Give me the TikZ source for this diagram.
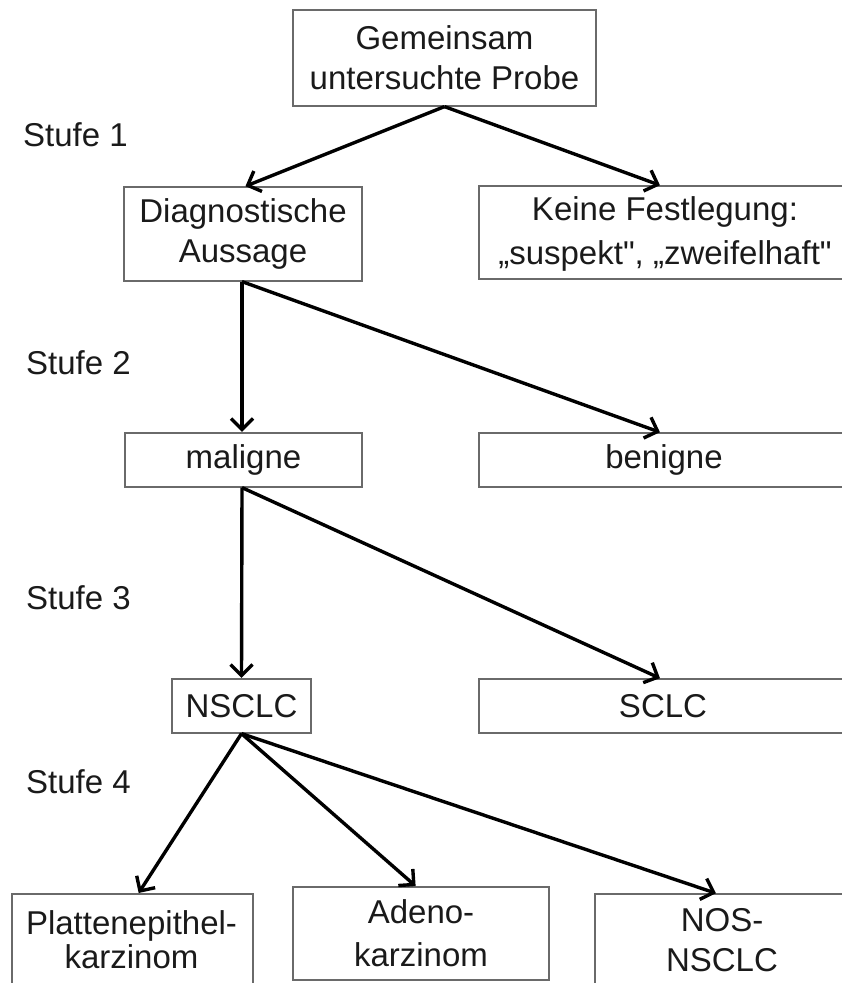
\documentclass[tikz,border=0pt]{standalone}
\usepackage{fontspec}
\setmainfont{Liberation Sans}[Ligatures=TeXOff]
\usetikzlibrary{arrows.meta}
\definecolor{boxline}{HTML}{6A6A6A}
\definecolor{txtc}{HTML}{1A1A1A}
\tikzset{
  box/.style={draw=boxline, line width=1.2pt, rectangle, inner sep=0pt, align=center, text=txtc,
    font=\fontsize{33}{40}\selectfont},
  txt/.style={inner sep=0pt, align=center, text=txtc, font=\fontsize{33}{40}\selectfont},
  arr/.style={line width=3.4pt, -{Straight Barb[length=11pt,width=22pt]}, shorten >=0.5pt},
}
\begin{document}
\begin{tikzpicture}[x=1pt,y=-1pt]
\useasboundingbox (0,0) rectangle (842,983);
\clip (0,0) rectangle (842,983);
% boxes
\node[box, minimum width=303pt, minimum height=96pt] (top) at (444.5,58) {Gemeinsam\\untersuchte Probe};
\node[box, minimum width=238pt, minimum height=94pt] (diag) at (243,234) {Diagnostische\\Aussage};
\node[box, minimum width=400pt, minimum height=93pt] (keine) at (679,232.5) {};
\node[txt, font=\fontsize{33}{44}\selectfont] (keinetxt) at (665,234) {Keine Festlegung:\\„suspekt", „zweifelhaft"};
\node[box, minimum width=237pt, minimum height=54pt] (mal) at (243.5,460) {maligne};
\node[box, minimum width=400pt, minimum height=54pt] (ben) at (679,460) {};
\node[txt] (bentxt) at (664,460) {benigne};
\node[box, minimum width=139pt, minimum height=54pt] (nsclc) at (241.5,706) {NSCLC};
\node[box, minimum width=400pt, minimum height=54pt] (sclc) at (679,706) {};
\node[txt] (sclctxt) at (663,706) {SCLC};
\node[box, minimum width=241pt, minimum height=120pt] (pl) at (132.5,954) {};
\node[txt, font=\fontsize{33}{34}\selectfont] (pltxt) at (131.5,940) {Plattenepithel-\\karzinom};
\node[box, minimum width=256pt, minimum height=93pt, font=\fontsize{33}{43}\selectfont] (ad) at (421,933.5) {Adeno-\\karzinom};
\node[box, minimum width=300pt, minimum height=120pt] (nos) at (745,954) {};
\node[txt] (nostxt) at (722,940) {NOS-\\NSCLC};
% stage labels
\node[txt, anchor=west] (s1) at (23,135) {Stufe 1};
\node[txt, anchor=west] (s2) at (26,363) {Stufe 2};
\node[txt, anchor=west] (s3) at (26,598) {Stufe 3};
\node[txt, anchor=west] (s4) at (26,782) {Stufe 4};
% arrows
\draw[arr] (top.south) -- ([xshift=2pt]diag.north);
\draw[arr] (top.south) -- ([xshift=182pt]keine.north west);
\draw[arr] ([xshift=-1pt]diag.south) -- ([xshift=-1.5pt]mal.north);
\draw[arr] ([xshift=-1pt]diag.south) -- ([xshift=182pt]ben.north west);
\draw[arr] ([xshift=-1.5pt]mal.south) -- (nsclc.north);
\draw[arr] ([xshift=-1.5pt]mal.south) -- ([xshift=182pt]sclc.north west);
\draw[arr] (nsclc.south) -- ([xshift=127pt]pl.north west);
\draw[arr] (nsclc.south) -- ([xshift=-5pt]ad.north);
\draw[arr] (nsclc.south) -- ([xshift=122pt]nos.north west);
\end{tikzpicture}
\end{document}
